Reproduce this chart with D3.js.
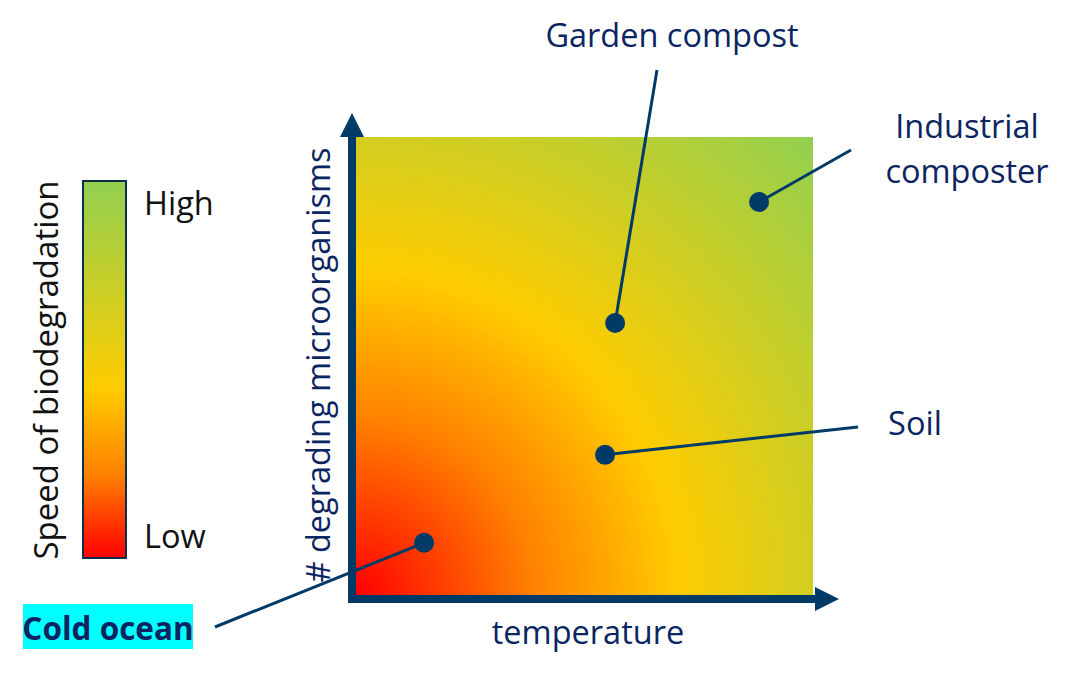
<!DOCTYPE html>
<html><head><meta charset="utf-8">
<script src="https://cdn.jsdelivr.net/npm/d3@7"></script>
<style>body{margin:0;background:#fff}svg{display:block}</style>
</head><body>
<svg id="c" width="1071" height="678"></svg>
<script>
// ---- data ----
const locations = ["Cold ocean", "Soil", "Garden compost", "Industrial composter"];
const temperature = [0.149, 0.545, 0.567, 0.882];      // relative, 0..1
const microorganisms = [0.114, 0.306, 0.594, 0.858];   // relative, 0..1
const legendLabels = ["High", "Low"];
const axisTitles = ["temperature", "# degrading microorganisms"];
const legendTitle = "Speed of biodegradation";
const speedColors = ["#FF0000", "#FF8000", "#FFCC00", "#92D050"];
const speedStops = [0, 0.27, 0.5, 1];
const legendStops = [0, 0.22, 0.45, 1];

// ---- layout ----
const navy = "#003A66", textNavy = "#0A2561";
const font = "'Open Sans', sans-serif";
const fs = 32.5;
const svg = d3.select("#c");
const x = d3.scaleLinear().domain([0, 1]).range([356, 813]);
const y = d3.scaleLinear().domain([0, 1]).range([595, 137]);

const defs = svg.append("defs");
const [x0, x1] = x.range(), [y0, y1] = y.range();
const rg = defs.append("radialGradient").attr("id", "rg")
  .attr("gradientUnits", "userSpaceOnUse")
  .attr("cx", x0).attr("cy", y0).attr("r", Math.hypot(x1 - x0, y0 - y1));
rg.selectAll("stop").data(speedColors).join("stop")
  .attr("offset", (d, i) => speedStops[i]).attr("stop-color", d => d);

svg.append("rect").attr("x", x0).attr("y", y1).attr("width", x1 - x0).attr("height", y0 - y1)
  .attr("fill", "url(#rg)");

// axes with arrows
svg.append("line").attr("x1", 352).attr("y1", 603).attr("x2", 352).attr("y2", 136)
  .attr("stroke", navy).attr("stroke-width", 8);
svg.append("path").attr("d", "M340,137 L352,113 L364,137 Z").attr("fill", navy);
svg.append("line").attr("x1", 348).attr("y1", 599).attr("x2", 816).attr("y2", 599)
  .attr("stroke", navy).attr("stroke-width", 8);
svg.append("path").attr("d", "M815,587 L839,599 L815,611 Z").attr("fill", navy);

// axis titles
svg.append("text").attr("x", 588).attr("y", 644).attr("text-anchor", "middle")
  .attr("font-family", font).attr("font-size", fs).attr("fill", textNavy).text(axisTitles[0]);
svg.append("text").attr("transform", "translate(330,365) rotate(-90)").attr("text-anchor", "middle")
  .attr("font-family", font).attr("font-size", fs).attr("fill", textNavy).text(axisTitles[1]);

// legend bar
const lg = defs.append("linearGradient").attr("id", "lg").attr("x1", 0).attr("y1", 1).attr("x2", 0).attr("y2", 0);
lg.selectAll("stop").data(speedColors).join("stop")
  .attr("offset", (d, i) => legendStops[i]).attr("stop-color", d => d);
svg.append("rect").attr("x", 83).attr("y", 181).attr("width", 43).attr("height", 377)
  .attr("fill", "url(#lg)").attr("stroke", "#0E2F4A").attr("stroke-width", 2);
svg.append("text").attr("x", 144).attr("y", 215).attr("font-family", font).attr("font-size", fs)
  .attr("fill", "#111").text(legendLabels[0]);
svg.append("text").attr("x", 144).attr("y", 548).attr("font-family", font).attr("font-size", fs)
  .attr("fill", "#111").text(legendLabels[1]);
svg.append("text").attr("transform", "translate(58,370) rotate(-90)").attr("text-anchor", "middle")
  .attr("font-family", font).attr("font-size", 33).attr("fill", "#111").text(legendTitle);

// annotations: leader end + label placement per location
const leaderEnds = [[215, 627], [858, 427], [657, 70], [851, 150]];
const labelLines = [["Cold ocean"], ["Soil"], ["Garden compost"], ["Industrial", "composter"]];
const labelPos = [[108, 640], [915, 435], [672, 47], [967, 138]];

const pts = locations.map((name, i) => ({ name, t: temperature[i], m: microorganisms[i], end: leaderEnds[i], lines: labelLines[i], pos: labelPos[i] }));

svg.append("g").selectAll("line").data(pts).join("line")
  .attr("x1", d => x(d.t)).attr("y1", d => y(d.m))
  .attr("x2", d => d.end[0]).attr("y2", d => d.end[1])
  .attr("stroke", navy).attr("stroke-width", 3);
svg.append("g").selectAll("circle").data(pts).join("circle")
  .attr("cx", d => x(d.t)).attr("cy", d => y(d.m)).attr("r", 10).attr("fill", navy);

// cold ocean highlight box
svg.append("rect").attr("x", 23).attr("y", 604).attr("width", 170).attr("height", 45).attr("fill", "#00FFFF");

const lab = svg.append("g").selectAll("text").data(pts).join("text")
  .attr("x", d => d.pos[0]).attr("y", d => d.pos[1]).attr("text-anchor", "middle")
  .attr("font-family", font).attr("font-size", d => d.name === "Cold ocean" ? 31.5 : fs)
  .attr("font-weight", d => d.name === "Cold ocean" ? 700 : 400)
  .attr("fill", textNavy);
lab.selectAll("tspan").data(d => d.lines.map((l, j) => ({ l, j, x: d.pos[0] }))).join("tspan")
  .attr("x", d => d.x).attr("dy", d => d.j ? 45 : 0).text(d => d.l);
</script>
</body></html>
